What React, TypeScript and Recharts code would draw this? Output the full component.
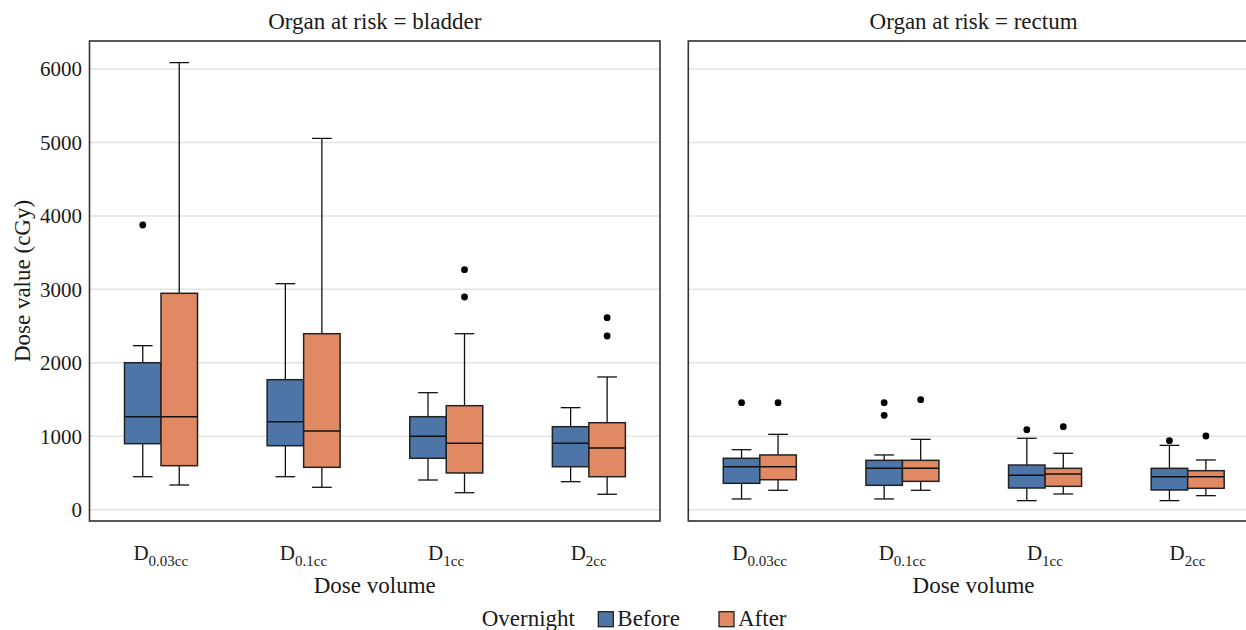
import { ComposedChart, Bar, XAxis, YAxis, CartesianGrid } from 'recharts';

// box stats per volume: [lower whisker, q1, median, q3, upper whisker]
const volumes = ['0.03cc', '0.1cc', '1cc', '2cc'];
const groups = ['Before', 'After'];
const groupColors = ['#4E75A8', '#E08962'];
const yTicks = [0, 1000, 2000, 3000, 4000, 5000, 6000];

const bladderBefore = [
  [449, 899, 1266, 2001, 2233],
  [449, 871, 1198, 1770, 3077],
  [404, 700, 999, 1266, 1593],
  [381, 585, 904, 1130, 1389],
];
const bladderBeforeOut = [[3876], [], [], []];
const bladderAfter = [
  [336, 599, 1266, 2946, 6086],
  [305, 577, 1071, 2396, 5056],
  [231, 500, 904, 1416, 2396],
  [210, 449, 840, 1184, 1807],
];
const bladderAfterOut = [[], [], [2896, 3268], [2365, 2614]];

const rectumBefore = [
  [146, 359, 585, 700, 817],
  [146, 332, 563, 672, 745],
  [123, 295, 468, 608, 972],
  [123, 268, 449, 563, 876],
];
const rectumBeforeOut = [[1457], [1285, 1457], [1089], [939]];
const rectumAfter = [
  [264, 408, 585, 745, 1026],
  [264, 386, 563, 672, 958],
  [214, 318, 486, 563, 768],
  [191, 291, 449, 531, 677],
];
const rectumAfterOut = [[1457], [1498], [1130], [1003]];

const INK = '#1a1a1a';
const PLOT_TOP = 41;
const PLOT_H = 480;
const PLOT_W = 570.5;
const LEFT_X = 89.5;
const RIGHT_X = 688.3;

function buildRows(before: number[][], beforeOut: number[][], after: number[][], afterOut: number[][]) {
  return volumes.map((v, i) => ({
    volume: v,
    before: [before[i][0], before[i][4]],
    after: [after[i][0], after[i][4]],
    beforeStats: before[i],
    afterStats: after[i],
    beforeOut: beforeOut[i],
    afterOut: afterOut[i],
  }));
}

const bladderRows = buildRows(bladderBefore, bladderBeforeOut, bladderAfter, bladderAfterOut);
const rectumRows = buildRows(rectumBefore, rectumBeforeOut, rectumAfter, rectumAfterOut);

function makeBox(statsKey: string, outKey: string, fill: string) {
  return (props: any) => {
    const { x, y, width, height, payload } = props;
    const s: number[] = payload[statsKey];
    const outs: number[] = payload[outKey] || [];
    const top = Math.min(y, y + height);
    const h = Math.abs(height);
    const k = h / (s[4] - s[0]);
    const py = (v: number) => top + (s[4] - v) * k;
    const cx = x + width / 2;
    const cap = width * 0.27;
    return (
      <g>
        <line x1={cx} x2={cx} y1={py(s[4])} y2={py(s[3])} stroke="#111" strokeWidth={1.3} />
        <line x1={cx} x2={cx} y1={py(s[1])} y2={py(s[0])} stroke="#111" strokeWidth={1.3} />
        <line x1={cx - cap} x2={cx + cap} y1={py(s[4])} y2={py(s[4])} stroke="#111" strokeWidth={1.3} />
        <line x1={cx - cap} x2={cx + cap} y1={py(s[0])} y2={py(s[0])} stroke="#111" strokeWidth={1.3} />
        <rect x={x} y={py(s[3])} width={width} height={py(s[1]) - py(s[3])} fill={fill} stroke="#222" strokeWidth={1.5} />
        <line x1={x} x2={x + width} y1={py(s[2])} y2={py(s[2])} stroke="#111" strokeWidth={1.5} />
        {outs.map((o, j) => (
          <circle key={j} cx={cx} cy={py(o)} r={3.4} fill="#000" />
        ))}
      </g>
    );
  };
}

function VolumeTick(props: any) {
  const { x, y, payload } = props;
  return (
    <text x={x} y={y + 39} textAnchor="middle" fontSize={21} fill={INK}>
      <tspan>D</tspan>
      <tspan dy={6} fontSize={15}>{payload.value}</tspan>
    </text>
  );
}

function Panel({ rows, showY, left, width, marginLeft }: any) {
  return (
    <div style={{ position: 'absolute', left, top: 0 }}>
      <ComposedChart
        width={width}
        height={630}
        data={rows}
        margin={{ top: PLOT_TOP, right: 2, bottom: 29, left: marginLeft }}
        barGap={0}
      >
        <CartesianGrid vertical={false} stroke="#e3e3e3" strokeWidth={1.5} />
        <XAxis
          dataKey="volume"
          height={80}
          tickLine={false}
          axisLine={false}
          tickSize={0}
          tickMargin={0}
          interval={0}
          tick={<VolumeTick />}
          label={{ value: 'Dose volume', position: 'insideBottom', offset: 8, fontSize: 23, fill: INK }}
        />
        <YAxis
          domain={[-154, 6381]}
          ticks={yTicks}
          allowDataOverflow
          hide={!showY}
          width={89.5}
          tickLine={false}
          axisLine={false}
          tickSize={0}
          tickMargin={7.5}
          tick={{ fontSize: 21, fill: INK }}
          label={
            showY
              ? { value: 'Dose value (cGy)', angle: -90, position: 'insideLeft', offset: 22, fontSize: 23, fill: INK, style: { textAnchor: 'middle' } }
              : undefined
          }
        />
        <Bar dataKey="before" barSize={36.5} isAnimationActive={false} shape={makeBox('beforeStats', 'beforeOut', groupColors[0])} />
        <Bar dataKey="after" barSize={36.5} isAnimationActive={false} shape={makeBox('afterStats', 'afterOut', groupColors[1])} />
      </ComposedChart>
    </div>
  );
}

export default function App() {
  const legendX = [598.3, 719];
  return (
    <div
      style={{
        position: 'absolute',
        left: 0,
        top: 0,
        width: 1246,
        height: 630,
        overflow: 'hidden',
        background: '#fff',
        fontFamily: '"Liberation Serif", serif',
      }}
    >
      <Panel rows={bladderRows} showY left={0} width={LEFT_X + PLOT_W + 2} marginLeft={0} />
      <Panel rows={rectumRows} showY={false} left={RIGHT_X - 2.3} width={2.3 + PLOT_W + 2} marginLeft={2.3} />
      <svg width={1246} height={630} style={{ position: 'absolute', left: 0, top: 0, pointerEvents: 'none' }}>
        <rect x={LEFT_X} y={PLOT_TOP} width={PLOT_W} height={PLOT_H} fill="none" stroke="#333" strokeWidth={1.6} />
        <rect x={RIGHT_X} y={PLOT_TOP} width={PLOT_W} height={PLOT_H} fill="none" stroke="#333" strokeWidth={1.6} />
        <text x={LEFT_X + PLOT_W / 2} y={29} textAnchor="middle" fontSize={23} fill={INK}>
          Organ at risk = bladder
        </text>
        <text x={RIGHT_X + PLOT_W / 2} y={29} textAnchor="middle" fontSize={23} fill={INK}>
          Organ at risk = rectum
        </text>
        <text x={481.7} y={626} fontSize={23} fill={INK}>
          Overnight
        </text>
        {groups.map((g, i) => (
          <g key={g}>
            <rect x={legendX[i]} y={611.7} width={15} height={15} fill={groupColors[i]} stroke="#222" strokeWidth={1.3} />
            <text x={legendX[i] + 19} y={626} fontSize={23} fill={INK}>
              {g}
            </text>
          </g>
        ))}
      </svg>
    </div>
  );
}
